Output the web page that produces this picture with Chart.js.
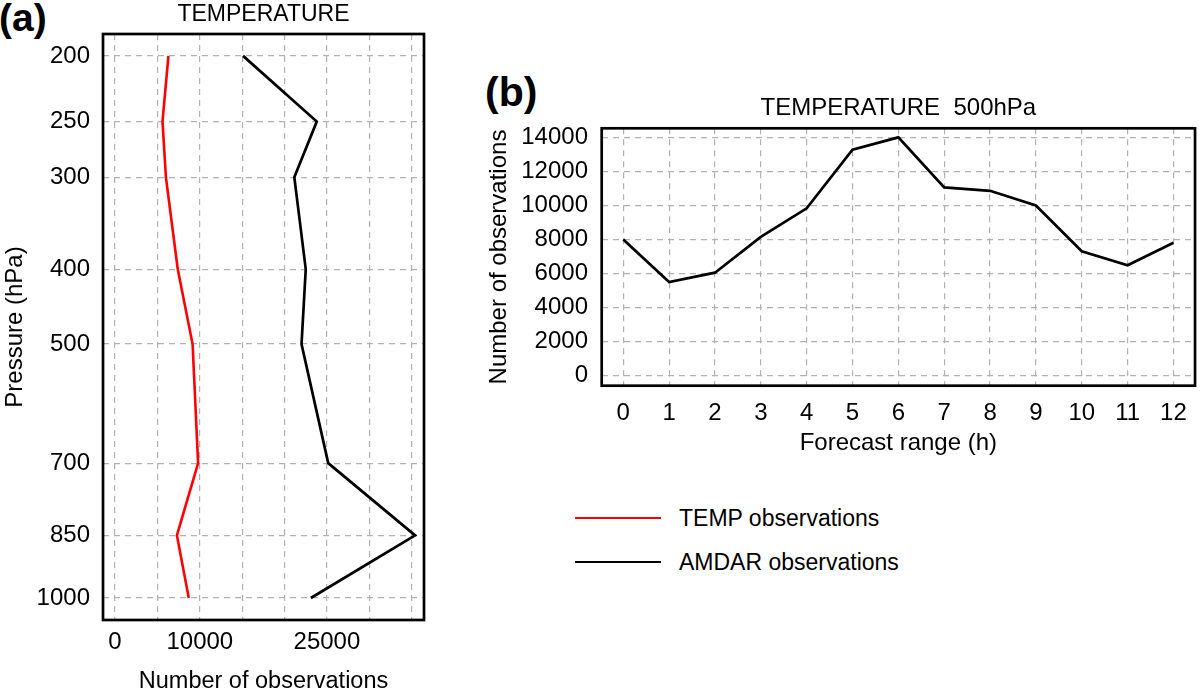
<!DOCTYPE html>
<html>
<head>
<meta charset="utf-8">
<script src="https://cdn.jsdelivr.net/npm/chart.js@4.4.0/dist/chart.umd.min.js"></script>
<style>
html,body{margin:0;padding:0;width:1200px;height:690px;overflow:hidden;background:#fff;}
body{font-family:'Liberation Sans',Arial,Helvetica,sans-serif;color:#000;position:relative;}
.box{position:absolute;}
#wa{left:0;top:0;width:470px;height:700px;}
#wb{left:480px;top:60px;width:720px;height:420px;}
.tag{position:absolute;font-weight:bold;line-height:1;white-space:nowrap;}
#tagA{left:-1px;top:-2px;font-size:39px;}
#tagB{left:485px;top:72px;font-size:41px;}
#legend{position:absolute;left:575px;top:496px;}
.row{display:flex;align-items:center;height:44px;}
.sw{width:86px;height:0;border-top-style:solid;border-top-width:2.7px;margin-right:18px;}
.lt{font-size:23px;line-height:1;white-space:nowrap;}
</style>
</head>
<body>
<div class="tag" id="tagA">(a)</div>
<div class="tag" id="tagB">(b)</div>
<div class="box" id="wa"><canvas id="ca"></canvas></div>
<div class="box" id="wb"><canvas id="cb"></canvas></div>
<div id="legend"></div>
<script>
// ---------------- data ----------------
// Panel (a): vertical profile of observation counts
const PRESSURE_LEVELS = [200, 250, 300, 400, 500, 700, 850, 1000];   // hPa
const TEMP_COUNTS     = [6300, 5600, 6000, 7400, 9150, 9800, 7300, 8700];
const AMDAR_COUNTS    = [15100, 23800, 21150, 22500, 22000, 25150, 35400, 23100];
const X_TICKS_A       = [0, 5000, 10000, 15000, 20000, 25000, 30000, 35000];
const X_LABELS_A      = [0, 10000, 25000];

// Panel (b): 500 hPa counts by forecast range
const FORECAST_HOURS  = [0, 1, 2, 3, 4, 5, 6, 7, 8, 9, 10, 11, 12];
const AMDAR_500       = [8000, 5500, 6050, 8150, 9830, 13280, 14000, 11060, 10860, 10000, 7310, 6490, 7810];
const Y_TICKS_B       = [0, 2000, 4000, 6000, 8000, 10000, 12000, 14000];

const SERIES_NAMES  = ['TEMP observations', 'AMDAR observations'];
const SERIES_COLORS = ['#ff0000', '#000000'];

// ---------------- styling helpers ----------------
const FONT = "'Liberation Sans', Arial, Helvetica, sans-serif";
Chart.defaults.font.family = FONT;
Chart.defaults.color = '#000';

// Pressure axis laid out by standard-atmosphere height
const hOfP = p => 44.3308 * (1 - Math.pow(p / 1013.25, 0.190263));
const pOfH = h => 1013.25 * Math.pow(1 - h / 44.3308, 1 / 0.190263);
class PressureScale extends Chart.LinearScale {
  configure() {
    super.configure();
    this._hBot = hOfP(this.max);
    this._hTop = hOfP(this.min);
  }
  getPixelForValue(value) {
    return this.getPixelForDecimal((hOfP(value) - this._hBot) / (this._hTop - this._hBot));
  }
  getValueForPixel(pixel) {
    const d = this.getDecimalForPixel(pixel);
    return pOfH(this._hBot + d * (this._hTop - this._hBot));
  }
}
PressureScale.id = 'pressure';
PressureScale.defaults = {};
Chart.register(PressureScale);

const frame = {
  id: 'frame',
  afterDatasetsDraw(chart) {
    const a = chart.chartArea, ctx = chart.ctx;
    ctx.save();
    ctx.strokeStyle = '#000';
    ctx.lineWidth = 2.7;
    ctx.strokeRect(a.left, a.top, a.right - a.left, a.bottom - a.top);
    ctx.restore();
  }
};

const gridStyle = { color: '#b2b2b2', lineWidth: 1.2, drawTicks: false };
const borderStyle = { display: false, dash: [6, 5] };
const setTicks = arr => (s => { s.ticks = arr.map(v => ({ value: v })); });

// ---------------- chart (a) ----------------
const chartA = new Chart(document.getElementById('ca'), {
  type: 'scatter',
  data: {
    datasets: [
      { label: SERIES_NAMES[0], data: PRESSURE_LEVELS.map((p, i) => ({ x: TEMP_COUNTS[i], y: p })),
        borderColor: SERIES_COLORS[0], backgroundColor: SERIES_COLORS[0], borderWidth: 2.6 },
      { label: SERIES_NAMES[1], data: PRESSURE_LEVELS.map((p, i) => ({ x: AMDAR_COUNTS[i], y: p })),
        borderColor: SERIES_COLORS[1], backgroundColor: SERIES_COLORS[1], borderWidth: 2.7 }
    ]
  },
  options: {
    responsive: true, maintainAspectRatio: false, animation: false,
    showLine: true,
    elements: { point: { radius: 0, hoverRadius: 0 }, line: { tension: 0 } },
    layout: { padding: { left: 0, top: 0, right: 46, bottom: 0 } },
    plugins: {
      legend: { display: false },
      tooltip: { enabled: false },
      title: { display: true, text: 'TEMPERATURE', fullSize: false,
        font: { size: 23, weight: 'normal' }, color: '#000', padding: { top: 1, bottom: 5.4 } }
    },
    scales: {
      x: {
        type: 'linear', min: -1420, max: 36450,
        afterBuildTicks: setTicks(X_TICKS_A),
        afterFit: s => { s.height = 80; },
        grid: gridStyle, border: borderStyle,
        ticks: { font: { size: 24 }, padding: 8, autoSkip: false, maxRotation: 0,
          callback: v => (X_LABELS_A.includes(v) ? String(v) : '') },
        title: { display: true, text: 'Number of observations', font: { size: 23.5 }, padding: { top: 0, bottom: 4.2 } }
      },
      y: {
        type: 'pressure', min: 185.26, max: 1057.56,
        afterBuildTicks: setTicks(PRESSURE_LEVELS),
        afterFit: s => { s.width = 103; },
        grid: gridStyle, border: borderStyle,
        ticks: { font: { size: 24 }, padding: 13, autoSkip: false, callback: v => String(v) },
        title: { display: true, text: 'Pressure (hPa)', font: { size: 24 }, padding: { top: 0.6, bottom: 0 } }
      }
    }
  },
  plugins: [frame]
});

// ---------------- chart (b) ----------------
const chartB = new Chart(document.getElementById('cb'), {
  type: 'scatter',
  data: {
    datasets: [
      { label: SERIES_NAMES[1], data: FORECAST_HOURS.map((h, i) => ({ x: h, y: AMDAR_500[i] })),
        borderColor: SERIES_COLORS[1], backgroundColor: SERIES_COLORS[1], borderWidth: 2.7 }
    ]
  },
  options: {
    responsive: true, maintainAspectRatio: false, animation: false,
    showLine: true,
    elements: { point: { radius: 0, hoverRadius: 0 }, line: { tension: 0 } },
    layout: { padding: { left: 0, top: 0, right: 1.7, bottom: 0 } },
    plugins: {
      legend: { display: false },
      tooltip: { enabled: false },
      title: { display: true, text: 'TEMPERATURE  500hPa', fullSize: false,
        font: { size: 24, weight: 'normal' }, color: '#000', padding: { top: 34, bottom: 5.5 } }
    },
    scales: {
      x: {
        type: 'linear', min: -0.47, max: 12.47,
        afterBuildTicks: setTicks(FORECAST_HOURS),
        afterFit: s => { s.height = 94.3; },
        grid: gridStyle, border: borderStyle,
        ticks: { font: { size: 24 }, padding: 13, autoSkip: false, maxRotation: 0, callback: v => String(v) },
        title: { display: true, text: 'Forecast range (h)', font: { size: 24 }, padding: { top: 0, bottom: 21.9 } }
      },
      y: {
        type: 'linear', min: -587, max: 14530,
        afterBuildTicks: setTicks(Y_TICKS_B),
        afterFit: s => { s.width = 121.7; },
        grid: gridStyle, border: borderStyle,
        ticks: { font: { size: 24 }, padding: 13.7, autoSkip: false, callback: v => String(v) },
        title: { display: true, text: 'Number of observations', font: { size: 24 }, padding: { top: 4.6, bottom: 0 } }
      }
    }
  },
  plugins: [frame]
});

// ---------------- legend built from chart (a) datasets ----------------
const legendEl = document.getElementById('legend');
chartA.data.datasets.forEach(ds => {
  const row = document.createElement('div'); row.className = 'row';
  const sw = document.createElement('div'); sw.className = 'sw'; sw.style.borderTopColor = ds.borderColor;
  const t = document.createElement('div'); t.className = 'lt'; t.textContent = ds.label;
  row.appendChild(sw); row.appendChild(t); legendEl.appendChild(row);
});
</script>
</body>
</html>
